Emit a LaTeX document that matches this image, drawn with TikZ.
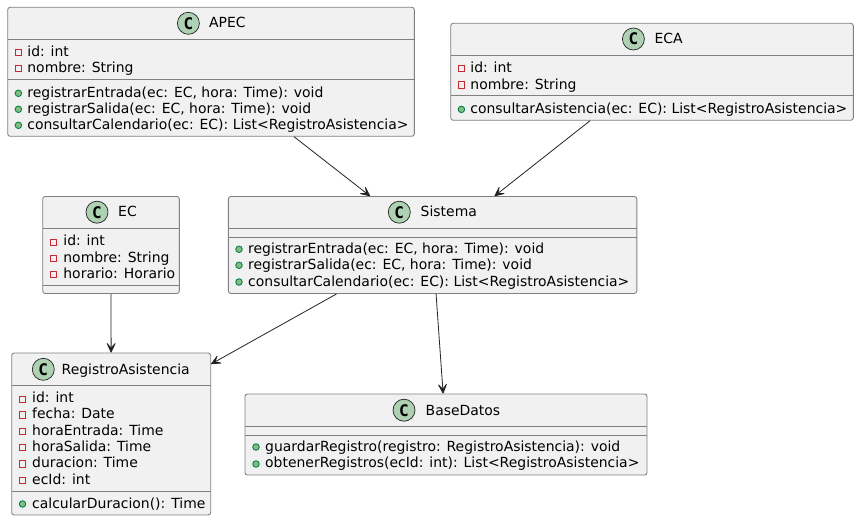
\documentclass[tikz,border=0pt]{standalone}
\usepackage{fontspec}
\setmainfont{DejaVu Sans}
\newfontfamily\spotfont{DejaVu Sans Mono}
\usetikzlibrary{arrows.meta}
\definecolor{boxfill}{HTML}{F1F1F1}
\definecolor{boxline}{HTML}{808080}
\definecolor{spotfill}{HTML}{ADD1B2}
\definecolor{privline}{HTML}{C82930}
\definecolor{pubfill}{HTML}{84BE84}
\definecolor{publine}{HTML}{038048}
\definecolor{linkline}{HTML}{222222}
\tikzset{
    classbox/.style={draw=boxline, fill=boxfill, line width=0.9pt, rounded corners=2.5pt, inner sep=0pt},
    spot/.style={circle, draw=linkline, fill=spotfill, line width=0.7pt, minimum size=22pt, inner sep=0pt, font=\spotfont\fontsize{16}{16}\selectfont\bfseries},
    title/.style={anchor=base west, inner sep=0pt, font=\fontsize{13.95}{16}\selectfont},
    member/.style={anchor=base west, inner sep=0pt, font=\fontsize{13.95}{16}\selectfont},
    privmark/.style={rectangle, draw=privline, line width=1pt, minimum size=6.5pt, inner sep=0pt},
    pubmark/.style={circle, draw=publine, fill=pubfill, line width=0.9pt, minimum size=6.5pt, inner sep=0pt},
    sepline/.style={draw=boxline, line width=0.9pt},
    link/.style={draw=linkline, line width=0.8pt, -{Stealth[length=12pt,width=11pt,inset=6.5pt,line width=0.8pt,round]}},
}
\begin{document}
\begin{tikzpicture}[x=1pt, y=-1pt]
    \useasboundingbox (0, 0) rectangle (859, 521);

    % APEC
    \node[classbox, minimum width=406.6pt, minimum height=129pt] (apec) at (211, 71.8) {};
    \draw[sepline] (7.7, 39.4) -- (414.3, 39.4);
    \draw[sepline] (7.7, 79.4) -- (414.3, 79.4);
    \node[spot] (apecspot) at (188.4, 23.3) {C};
    \node[title] (apectitle) at (209, 28) {APEC};
    \node[privmark] (apecm1) at (18.4, 52.3) {};
    \node[member] (apect1) at (27.2, 56.4) {id: int};
    \node[privmark] (apecm2) at (18.4, 68.3) {};
    \node[member] (apect2) at (27.2, 73) {nombre: String};
    \node[pubmark] (apecm3) at (18.4, 93.3) {};
    \node[member] (apect3) at (27.2, 97.4) {registrarEntrada(ec: EC, hora: Time): void};
    \node[pubmark] (apecm4) at (18.4, 109.3) {};
    \node[member] (apect4) at (27.2, 113.6) {registrarSalida(ec: EC, hora: Time): void};
    \node[pubmark] (apecm5) at (18.4, 125.3) {};
    \node[member] (apect5) at (27.2, 129.8) {consultarCalendario(ec: EC): List<RegistroAsistencia>};

    % ECA
    \node[classbox, minimum width=402.6pt, minimum height=97pt] (eca) at (652, 71.8) {};
    \draw[sepline] (450.7, 55.3) -- (853.3, 55.3);
    \draw[sepline] (450.7, 95.3) -- (853.3, 95.3);
    \node[spot] (ecaspot) at (633.4, 39) {C};
    \node[title] (ecatitle) at (654.3, 44) {ECA};
    \node[privmark] (ecam1) at (461.4, 68.4) {};
    \node[member] (ecat1) at (470.2, 72.5) {id: int};
    \node[privmark] (ecam2) at (461.4, 85) {};
    \node[member] (ecat2) at (470.2, 89.3) {nombre: String};
    \node[pubmark] (ecam3) at (461.4, 109.4) {};
    \node[member] (ecat3) at (470.2, 113.6) {consultarAsistencia(ec: EC): List<RegistroAsistencia>};

    % EC
    \node[classbox, minimum width=136.6pt, minimum height=97pt] (ec) at (111, 245) {};
    \draw[sepline] (42.7, 228.3) -- (179.3, 228.3);
    \draw[sepline] (42.7, 285) -- (179.3, 285);
    \node[spot] (ecspot) at (97, 212.2) {C};
    \node[title] (ectitle) at (118, 217) {EC};
    \node[privmark] (ecm1) at (53.4, 242.3) {};
    \node[member] (ect1) at (63.2, 245.4) {id: int};
    \node[privmark] (ecm2) at (53.4, 258.3) {};
    \node[member] (ect2) at (63.2, 262) {nombre: String};
    \node[privmark] (ecm3) at (53.4, 274.3) {};
    \node[member] (ect3) at (63.2, 278.2) {horario: Horario};

    % Sistema
    \node[classbox, minimum width=408.4pt, minimum height=97pt] (sistema) at (432.6, 245) {};
    \draw[sepline] (228.4, 228.3) -- (636.8, 228.3);
    \draw[sepline] (228.4, 237) -- (636.8, 237);
    \node[spot] (sistemaspot) at (399.3, 212.2) {C};
    \node[title] (sistematitle) at (420.5, 217) {Sistema};
    \node[pubmark] (sistemam1) at (239, 249.3) {};
    \node[member] (sistemat1) at (248, 253.4) {registrarEntrada(ec: EC, hora: Time): void};
    \node[pubmark] (sistemam2) at (239, 265.3) {};
    \node[member] (sistemat2) at (248, 269.8) {registrarSalida(ec: EC, hora: Time): void};
    \node[pubmark] (sistemam3) at (239, 282) {};
    \node[member] (sistemat3) at (248, 286.3) {consultarCalendario(ec: EC): List<RegistroAsistencia>};

    % RegistroAsistencia
    \node[classbox, minimum width=199pt, minimum height=162pt] (registro) at (111.2, 434) {};
    \draw[sepline] (11.7, 385.3) -- (210.7, 385.3);
    \draw[sepline] (11.7, 491.3) -- (210.7, 491.3);
    \node[spot] (registrospot) at (43.3, 369.3) {C};
    \node[title] (registrotitle) at (61.5, 374) {RegistroAsistencia};
    \node[privmark] (registrom1) at (22.5, 399.3) {};
    \node[member] (registrot1) at (32, 402.4) {id: int};
    \node[privmark] (registrom2) at (22.5, 415) {};
    \node[member] (registrot2) at (32, 418.8) {fecha: Date};
    \node[privmark] (registrom3) at (22.5, 431.3) {};
    \node[member] (registrot3) at (32, 435.3) {horaEntrada: Time};
    \node[privmark] (registrom4) at (22.5, 447.3) {};
    \node[member] (registrot4) at (32, 451.4) {horaSalida: Time};
    \node[privmark] (registrom5) at (22.5, 464) {};
    \node[member] (registrot5) at (32, 467.8) {duracion: Time};
    \node[privmark] (registrom6) at (22.5, 480.3) {};
    \node[member] (registrot6) at (32, 484.3) {ecId: int};
    \node[pubmark] (registrom7) at (22.5, 504) {};
    \node[member] (registrot7) at (32, 508.8) {calcularDuracion(): Time};

    % BaseDatos
    \node[classbox, minimum width=402pt, minimum height=81pt] (base) at (446, 434.5) {};
    \draw[sepline] (245, 426) -- (647, 426);
    \draw[sepline] (245, 435) -- (647, 435);
    \node[spot] (basespot) at (404, 410.2) {C};
    \node[title] (basetitle) at (425.5, 415) {BaseDatos};
    \node[pubmark] (basem1) at (256, 447) {};
    \node[member] (baset1) at (265, 451.4) {guardarRegistro(registro: RegistroAsistencia): void};
    \node[pubmark] (basem2) at (256, 464) {};
    \node[member] (baset2) at (265, 467.8) {obtenerRegistros(ecId: int): List<RegistroAsistencia>};

    \draw[link] (apec) -- (sistema);
    \draw[link] (eca) -- (sistema);
    \draw[link, xshift=-0.7pt] (ec) -- (registro);
    \draw[link] (sistema.-153.4) -- (registro.35.1);
    \draw[link] (sistema) -- (base);
\end{tikzpicture}
\end{document}
